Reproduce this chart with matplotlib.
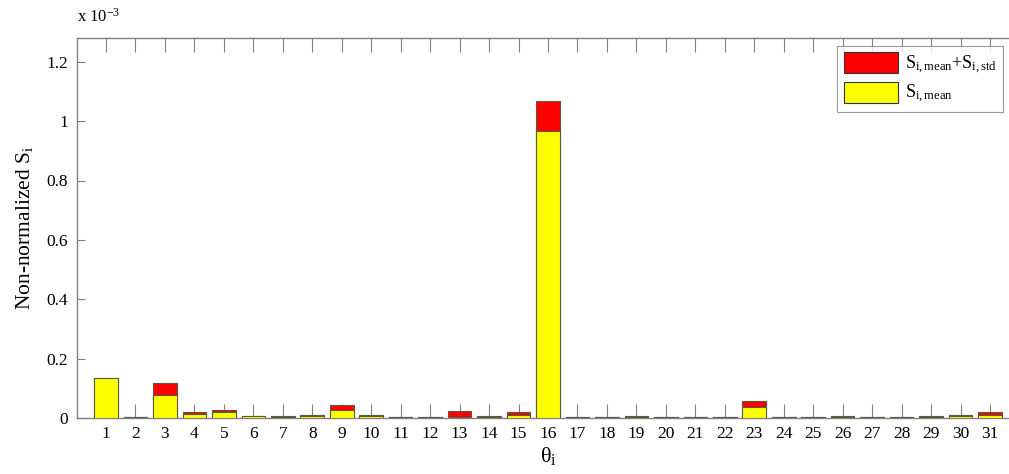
import matplotlib
matplotlib.use('Agg')
import matplotlib.pyplot as plt
import numpy as np
from matplotlib.ticker import FuncFormatter

plt.rcParams['font.family'] = 'Liberation Serif'
plt.rcParams['mathtext.fontset'] = 'custom'
plt.rcParams['mathtext.rm'] = 'Liberation Serif'
plt.rcParams['mathtext.it'] = 'Liberation Serif:italic'

# parametros theta_i
theta = np.arange(1, 32)

# S_i,mean (x 1e-3)
s_mean = [0.135, 0.002, 0.078, 0.015, 0.019, 0.007, 0.003, 0.006, 0.026, 0.006,
          0.002, 0.002, 0.005, 0.003, 0.010, 0.967, 0.002, 0.002, 0.002, 0.002,
          0.002, 0.002, 0.038, 0.002, 0.002, 0.002, 0.002, 0.002, 0.002, 0.006,
          0.011]

# S_i,mean + S_i,std (x 1e-3)
s_mean_std = [0.135, 0.002, 0.117, 0.021, 0.027, 0.007, 0.008, 0.010, 0.044, 0.010,
              0.002, 0.002, 0.025, 0.008, 0.021, 1.068, 0.002, 0.002, 0.008, 0.002,
              0.002, 0.002, 0.057, 0.002, 0.002, 0.008, 0.002, 0.002, 0.008, 0.011,
              0.021]

fig = plt.figure(figsize=(10.09, 4.74), dpi=100)
ax = fig.add_axes([76.5 / 1009, 56 / 474, 943 / 1009, 380 / 474])

edge = '#5a5a40'
ax.bar(theta, s_mean_std, width=0.8, color='#ff0000', edgecolor=edge,
       linewidth=0.8, label=r'S$_{\mathrm{i,mean}}$+S$_{\mathrm{i,std}}$', zorder=2)
ax.bar(theta, s_mean, width=0.8, color='#ffff00', edgecolor=edge,
       linewidth=0.8, label=r'S$_{\mathrm{i,mean}}$', zorder=3)

ax.set_xlim(0, 32)
ax.set_ylim(0, 1.28)
ax.set_xticks(theta)
ax.set_yticks(np.arange(0, 1.21, 0.2))
ax.yaxis.set_major_formatter(FuncFormatter(lambda v, p: ('%g' % round(v, 2))))

for s in ax.spines.values():
    s.set_color('#808080')
    s.set_linewidth(1.0)
ax.tick_params(axis='x', direction='in', length=10, width=0.8, color='#808080',
               top=True, labelsize=12.5, pad=6)
ax.tick_params(axis='y', direction='in', length=6, width=0.8, color='#808080',
               right=True, labelsize=12.5, pad=6)

ax.set_xlabel(r'$\mathrm{\theta}_{\mathrm{i}}$', fontsize=16, labelpad=2)
ax.set_ylabel(r'Non-normalized S$_{\mathrm{i}}$', fontsize=15.5, labelpad=8)

fig.text(77 / 1009, 1 - 22 / 474, r'x 10$^{\mathrm{-3}}$', fontsize=12,
         ha='left', va='baseline')

leg = ax.legend(loc='upper right', bbox_to_anchor=((1003 - 76.5) / 943, (418 - 46) / 380),
                fontsize=13, frameon=True, fancybox=False, borderaxespad=0,
                handlelength=3.0, handleheight=1.4, handletextpad=0.4,
                borderpad=0.35, labelspacing=0.35)
leg.get_frame().set_edgecolor('#808080')
leg.get_frame().set_linewidth(0.8)
for h in leg.legend_handles:
    h.set_edgecolor('#333333')

plt.savefig('out.png', dpi=100)
